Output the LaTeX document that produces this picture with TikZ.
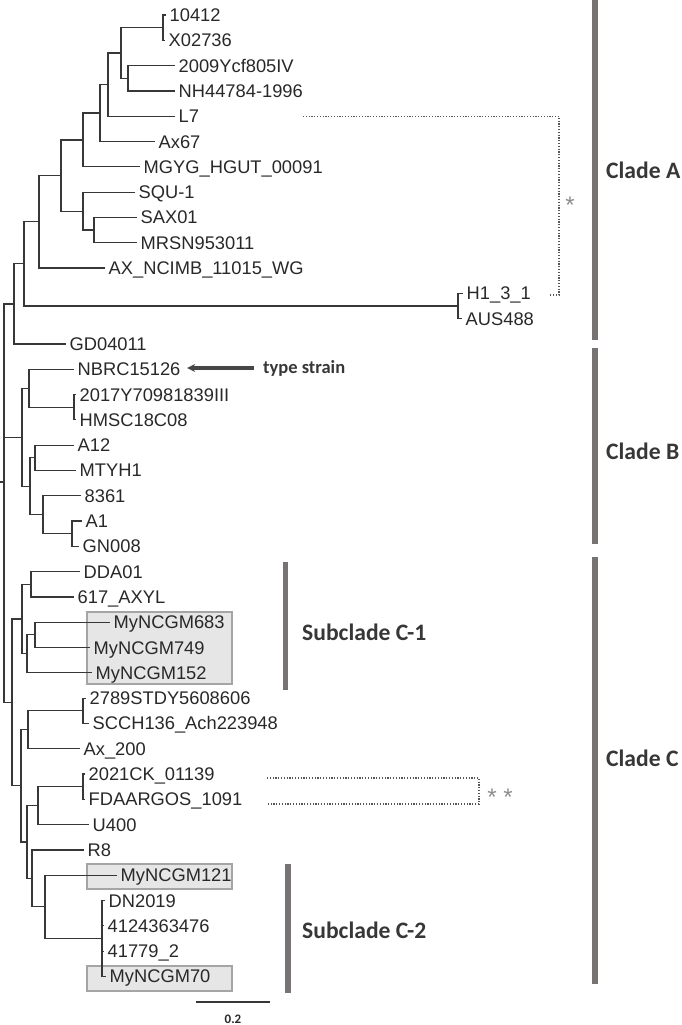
\documentclass[tikz,border=0pt]{standalone}
\usepackage{fontspec}
\setmainfont{Liberation Sans}
\newfontfamily\calibri{Carlito}
\usepackage{tikz}
\usetikzlibrary{arrows.meta}
\definecolor{treeline}{RGB}{55, 55, 55}
\definecolor{leaftext}{RGB}{40, 40, 40}
\definecolor{bargray}{RGB}{120, 115, 115}
\definecolor{cladetext}{RGB}{55, 55, 55}
\definecolor{boxfill}{RGB}{230, 230, 230}
\definecolor{boxline}{RGB}{165, 165, 165}
\definecolor{linkgray}{RGB}{85, 85, 85}
\definecolor{stargray}{RGB}{140, 140, 140}
\definecolor{arrowgray}{RGB}{70, 70, 70}

\begin{document}
\begin{tikzpicture}[x=1pt, y=-1pt,
    every node/.style={font=\fontsize{18.3}{19}\selectfont},
    branch/.style={draw=treeline, line width=1.2pt},
    leaf/.style={anchor=west, inner sep=3.5pt, text=leaftext, text height=13pt, text depth=0pt},
    cladebar/.style={fill=bargray, draw=none},
    cladelabel/.style={anchor=west, inner sep=0pt, text=cladetext, font=\calibri\bfseries\fontsize{23.6}{24}\selectfont},
    grpbox/.style={fill=boxfill, draw=boxline, line width=1.5pt},
    linkline/.style={draw=linkgray, line width=1.2pt, dash pattern=on 1.2pt off 1.6pt},
    starmark/.style={text=stargray, inner sep=0pt, font=\fontsize{24}{24}\selectfont}
]
\useasboundingbox (0,0) rectangle (682,1025);

% highlighted strains
\draw[grpbox] (87,612) rectangle (232,684);
\draw[grpbox] (87,864) rectangle (232,889);
\draw[grpbox] (87,966) rectangle (232,991);

% leaves, clade A
\node[leaf] (s10412) at (166,15) {10412};
\node[leaf] (x02736) at (165,40.3) {X02736};
\node[leaf] (ycf) at (175,65.6) {2009Ycf805IV};
\node[leaf] (nh44784) at (175,90.9) {NH44784-1996};
\node[leaf] (l7) at (175,116.2) {L7};
\node[leaf] (ax67) at (155,141.5) {Ax67};
\node[leaf] (mgyg) at (140,166.8) {MGYG\_HGUT\_00091};
\node[leaf] (squ) at (135,192.1) {SQU-1};
\node[leaf] (sax) at (137,217.4) {SAX01};
\node[leaf] (mrsn) at (137,242.7) {MRSN953011};
\node[leaf] (ncimb) at (105,268) {AX\_NCIMB\_11015\_WG};
\node[leaf] (h131) at (463,293.3) {H1\_3\_1};
\node[leaf] (aus) at (462,318.6) {AUS488};
\node[leaf] (gd) at (66,343.9) {GD04011};
% leaves, clade B
\node[leaf] (nbrc) at (74,369.2) {NBRC15126};
\node[leaf] (y2017) at (76,394.5) {2017Y70981839III};
\node[leaf] (hmsc) at (76,419.8) {HMSC18C08};
\node[leaf] (a12) at (74,445.1) {A12};
\node[leaf] (mtyh) at (76,470.4) {MTYH1};
\node[leaf] (s8361) at (81,495.7) {8361};
\node[leaf] (a1) at (82,521) {A1};
\node[leaf] (gn) at (79,546.3) {GN008};
% leaves, clade C
\node[leaf] (dda) at (80,571.6) {DDA01};
\node[leaf] (axyl) at (74,596.9) {617\_AXYL};
\node[leaf] (my683) at (110,622.2) {MyNCGM683};
\node[leaf] (my749) at (90,647.5) {MyNCGM749};
\node[leaf] (my152) at (92,672.8) {MyNCGM152};
\node[leaf] (stdy) at (86,698.1) {2789STDY5608606};
\node[leaf] (scch) at (89,723.4) {SCCH136\_Ach223948};
\node[leaf] (ax200) at (80,748.7) {Ax\_200};
\node[leaf] (ck) at (85,774) {2021CK\_01139};
\node[leaf] (fda) at (85,799.3) {FDAARGOS\_1091};
\node[leaf] (u400) at (89,824.6) {U400};
\node[leaf] (r8) at (84,849.9) {R8};
\node[leaf] (my121) at (117,875.2) {MyNCGM121};
\node[leaf] (dn) at (105,900.5) {DN2019};
\node[leaf] (s412) at (104,925.8) {4124363476};
\node[leaf] (s41779) at (104,951.1) {41779\_2};
\node[leaf] (my70) at (106,976.4) {MyNCGM70};

% inner nodes
\coordinate (na1) at (163,27.65);
\coordinate (na2) at (128,78.25);
\coordinate (na3) at (121,52.95);
\coordinate (na4) at (108,84.6);
\coordinate (na5) at (100,113.05);
\coordinate (na6) at (83,139.9);
\coordinate (na7) at (94,230.05);
\coordinate (na8) at (83,211.1);
\coordinate (na9) at (61,175.5);
\coordinate (na10) at (39,221.75);
\coordinate (nhaus) at (458,305.95);
\coordinate (na11) at (24,263.85);
\coordinate (na12) at (14,303.9);
\coordinate (nb1) at (74,407.15);
\coordinate (nb2) at (29,388.2);
\coordinate (nb3) at (35,457.75);
\coordinate (nb4) at (72,533.65);
\coordinate (nb5) at (43,514.7);
\coordinate (nb6) at (30,486.2);
\coordinate (nb7) at (22,437.2);
\coordinate (nc1) at (31,584.25);
\coordinate (nc2) at (35,634.85);
\coordinate (nc3) at (27,653.8);
\coordinate (nc4) at (22,619);
\coordinate (nc5) at (83,710.75);
\coordinate (nc6) at (28,729.7);
\coordinate (nc7) at (83,786.65);
\coordinate (nc8) at (38,805.6);
\coordinate (nc9) at (102,938.45);
\coordinate (nc10) at (45,906.8);
\coordinate (nc11) at (32,878.35);
\coordinate (nc12) at (27,842);
\coordinate (nc13) at (21,785.85);
\coordinate (nc14) at (12,702.4);
\coordinate (root) at (4,482);
\coordinate (stub) at (0,482);

% branches
\draw[branch] (s10412.west) -| (na1) |- (x02736.west);
\draw[branch] (ycf.west) -| (na2) |- (nh44784.west);
\draw[branch] (na1) -| (na3) |- (na2);
\draw[branch] (na3) -| (na4) |- (l7.west);
\draw[branch] (na4) -| (na5) |- (ax67.west);
\draw[branch] (na5) -| (na6) |- (mgyg.west);
\draw[branch] (sax.west) -| (na7) |- (mrsn.west);
\draw[branch] (squ.west) -| (na8) |- (na7);
\draw[branch] (na6) -| (na9) |- (na8);
\draw[branch] (na9) -| (na10) |- (ncimb.west);
\draw[branch] (h131.west) -| (nhaus) |- (aus.west);
\draw[branch] (na10) -| (na11) |- (nhaus);
\draw[branch] (na11) -| (na12) |- (gd.west);

\draw[branch] (y2017.west) -| (nb1) |- (hmsc.west);
\draw[branch] (nbrc.west) -| (nb2) |- (nb1);
\draw[branch] (a12.west) -| (nb3) |- (mtyh.west);
\draw[branch] (a1.west) -| (nb4) |- (gn.west);
\draw[branch] (s8361.west) -| (nb5) |- (nb4);
\draw[branch] (nb3) -| (nb6) |- (nb5);
\draw[branch] (nb2) -| (nb7) |- (nb6);

\draw[branch] (dda.west) -| (nc1) |- (axyl.west);
\draw[branch] (my683.west) -| (nc2) |- (my749.west);
\draw[branch] (nc2) -| (nc3) |- (my152.west);
\draw[branch] (nc1) -| (nc4) |- (nc3);
\draw[branch] (stdy.west) -| (nc5) |- (scch.west);
\draw[branch] (nc5) -| (nc6) |- (ax200.west);
\draw[branch] (ck.west) -| (nc7) |- (fda.west);
\draw[branch] (nc7) -| (nc8) |- (u400.west);
\draw[branch] (dn.west) -| (nc9) |- (my70.west);
\draw[branch] (nc9) |- (s412.west);
\draw[branch] (nc9) |- (s41779.west);
\draw[branch, line width=2.4pt] (nc9 |- s412.west) -- (nc9 |- s41779.west);
\draw[branch] (my121.west) -| (nc10) |- (nc9);
\draw[branch] (r8.west) -| (nc11) |- (nc10);
\draw[branch] (nc8) -| (nc12) |- (nc11);
\draw[branch] (nc6) -| (nc13) |- (nc12);
\draw[branch] (nc4) -| (nc14) |- (nc13);

\draw[branch] (na12) -| (root) |- (nc14);
\draw[branch] (root) |- (nb7);
\draw[branch] (root) -- (stub);

% type strain pointer
\node[anchor=west, inner sep=0pt, text=cladetext, font=\calibri\bfseries\fontsize{18.5}{19}\selectfont] (typestrain) at (263,368) {type strain};
\draw[-{Stealth[length=8pt, width=8pt]}, line width=3.5pt, draw=arrowgray, shorten <=9pt, shorten >=3pt] (typestrain.west) -- (typestrain.west -| nbrc.east);

% dotted links
\coordinate (lkA1) at (303,116.2);
\coordinate (lkA2) at (559,295);
\coordinate (lkA3) at (549,295);
\draw[linkline] (lkA1) -| (lkA2) -- (lkA3);
\node[starmark] (starA) at (570,205) {*};
\coordinate (lkC1) at (267,778);
\coordinate (lkC2) at (479,804);
\coordinate (lkC3) at (267,804);
\draw[linkline] (lkC1) -| (lkC2) -- (lkC3);
\node[starmark] (starC) at (500,797) {* *};

% clade bars
\fill[cladebar] (592,0) rectangle (597.5,340);
\fill[cladebar] (592,348) rectangle (597.5,544);
\fill[cladebar] (592,557) rectangle (597.5,984);
\fill[cladebar] (282.5,562) rectangle (288,690);
\fill[cladebar] (285,864) rectangle (290.5,993);
\node[cladelabel] (cladeA) at (606,170) {Clade A};
\node[cladelabel] (cladeB) at (606,451) {Clade B};
\node[cladelabel] (cladeC) at (606,758) {Clade C};
\node[cladelabel] (subC1) at (302,632) {Subclade C-1};
\node[cladelabel] (subC2) at (302,930) {Subclade C-2};

% scale bar
\coordinate (sbl) at (196,1002);
\coordinate (sbr) at (270,1002);
\draw[branch] (sbl) -- (sbr);
\node[text=leaftext, font=\calibri\bfseries\fontsize{13}{13}\selectfont] (sblabel) at (233,1019) {0.2};
\end{tikzpicture}
\end{document}
